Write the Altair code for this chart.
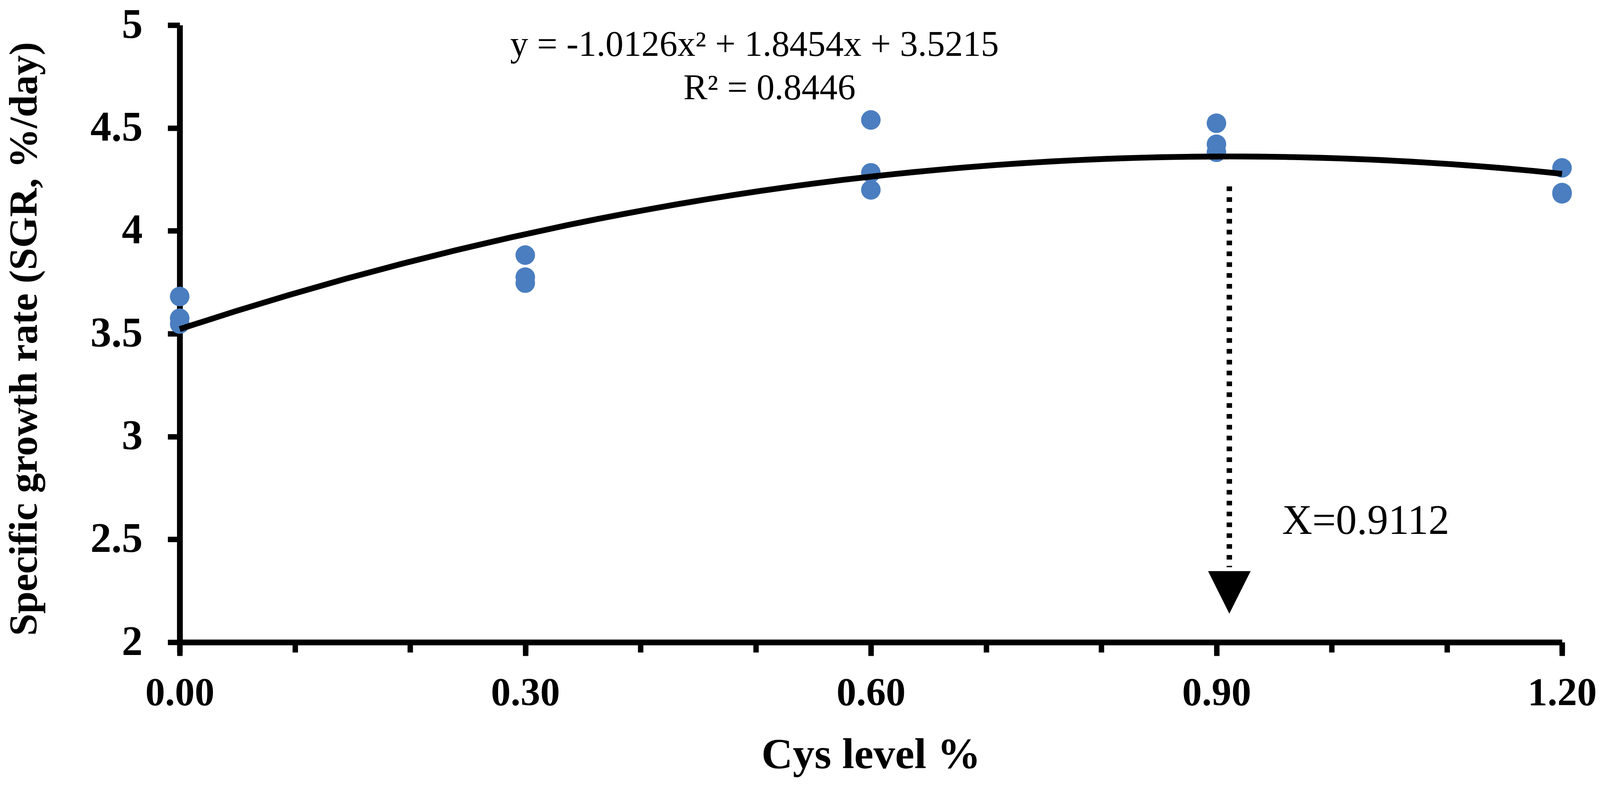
import altair as alt
import pandas as pd

# ---- data ----
cys = [0.0, 0.0, 0.0, 0.3, 0.3, 0.3, 0.6, 0.6, 0.6, 0.9, 0.9, 0.9, 1.2, 1.2, 1.2]
sgr = [3.681, 3.575, 3.547, 3.882, 3.775, 3.746, 4.539, 4.282, 4.199,
       4.523, 4.421, 4.382, 4.306, 4.186, 4.180]

x_minor_ticks = [0.0, 0.1, 0.2, 0.3, 0.4, 0.5, 0.6, 0.7, 0.8, 0.9, 1.0, 1.1, 1.2]
x_major_ticks = [0.0, 0.3, 0.6, 0.9, 1.2]
y_ticks = [2, 2.5, 3, 3.5, 4, 4.5, 5]

optimum_x = [0.9112]
arrow_top = [4.216]
arrow_bottom = [2.365]
arrow_head_y = [2.2425]

eq_text = ["y = -1.0126x\u00b2 + 1.8454x + 3.5215", "R\u00b2 = 0.8446"]
eq_x = [0.499, 0.512]
eq_y = [4.851, 4.640]

opt_text = ["X=0.9112"]
opt_x = [0.957]
opt_y = [2.527]

FONT = "Liberation Serif"
BLUE = "#4A7EC0"

pts = pd.DataFrame({"cys": cys, "sgr": sgr})
xs = alt.Scale(domain=[0, 1.2], nice=False, zero=False)
ys = alt.Scale(domain=[2, 5], nice=False, zero=False)

y_axis = alt.Axis(
    values=y_ticks, format="~g", tickSize=31, labelPadding=65, labelFontSize=108,
    title="Specific growth rate (SGR, %/day)", titleAngle=-90, titleFontSize=103,
    titleX=-370, titleY=810, titleBaseline="alphabetic", titleAlign="center",
    labelLimit=0, titleLimit=0,
)
x_major_axis = alt.Axis(
    values=x_major_ticks, format=".2f", tickSize=35, labelPadding=47, labelFontSize=102,
    domain=False, title="Cys level %", titleY=325, titleBaseline="alphabetic",
    orient="bottom", labelFlush=False, labelOverlap=False, labelLimit=0, titleLimit=0,
)
x_minor_axis = alt.Axis(
    values=x_minor_ticks, tickSize=26, labels=False, domain=True,
    title=None, orient="bottom",
)


def yenc(field):
    return alt.Y(field, scale=ys, axis=y_axis)


points = alt.Chart(pts).mark_circle(size=2550, color=BLUE, opacity=1).encode(
    x=alt.X("cys:Q", scale=xs, axis=x_major_axis),
    y=yenc("sgr:Q"),
)

curve = alt.Chart(pts).transform_regression(
    "cys", "sgr", method="poly", order=2, extent=[0, 1.2]
).mark_line(color="black", strokeWidth=15).encode(
    x=alt.X("cys:Q", scale=xs, axis=x_minor_axis),
    y=yenc("sgr:Q"),
)

guide = alt.Chart(pd.DataFrame({"x": optimum_x, "y": arrow_top, "y2": arrow_bottom})).mark_rule(
    color="black", strokeWidth=14, strokeDash=[12, 16]
).encode(
    x=alt.X("x:Q", scale=xs, axis=None),
    y=yenc("y:Q"),
    y2="y2:Q",
)

head = alt.Chart(pd.DataFrame({"x": optimum_x, "y": arrow_head_y})).mark_point(
    shape="M-1,-1L1,-1L0,1Z", filled=True, color="black", opacity=1, size=12100, strokeWidth=0
).encode(
    x=alt.X("x:Q", scale=xs, axis=None),
    y=yenc("y:Q"),
)

eq = alt.Chart(pd.DataFrame({"x": eq_x, "y": eq_y, "t": eq_text})).mark_text(
    font=FONT, fontSize=93, align="center", baseline="alphabetic", color="black"
).encode(
    x=alt.X("x:Q", scale=xs, axis=None),
    y=yenc("y:Q"),
    text="t:N",
)

opt = alt.Chart(pd.DataFrame({"x": opt_x, "y": opt_y, "t": opt_text})).mark_text(
    font=FONT, fontSize=108, align="left", baseline="alphabetic", color="black"
).encode(
    x=alt.X("x:Q", scale=xs, axis=None),
    y=yenc("y:Q"),
    text="t:N",
)

chart = alt.layer(points, curve, guide, head, eq, opt).resolve_axis(
    x="independent", y="shared"
).properties(
    width=3570, height=1594,
    autosize=alt.AutoSizeParams(type="none"),
    padding={"left": 456, "top": 48, "right": 90, "bottom": 355},
    background="white",
).configure_view(stroke=None).configure_axis(
    grid=False,
    domainColor="black", domainWidth=15,
    tickColor="black", tickWidth=14,
    labelFont=FONT, labelFontWeight="bold", labelColor="black",
    titleFont=FONT, titleFontWeight="bold", titleFontSize=112, titleColor="black",
)

chart.save("out.html", embed_options={"renderer": "svg", "actions": False})
